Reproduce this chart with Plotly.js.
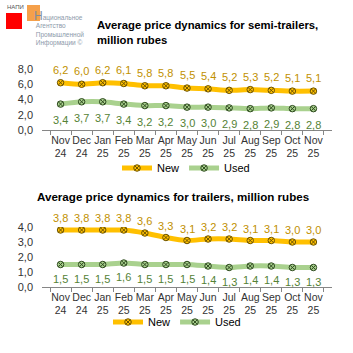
<!DOCTYPE html>
<html><head><meta charset="utf-8">
<script src="https://cdn.plot.ly/plotly-3.0.1.min.js"></script>
<style>html,body{margin:0;padding:0;background:#fff}#c{width:353px;height:353px}</style>
</head><body><div id="c"></div>
<script>
const months = ["Nov<br>24","Dec<br>24","Jan<br>25","Feb<br>25","Mar<br>25","Apr<br>25","May<br>25","Jun<br>25","Jul<br>25","Aug<br>25","Sep<br>25","Oct<br>25","Nov<br>25"];
const semiNew  = [6.2,6.0,6.2,6.1,5.8,5.8,5.5,5.4,5.2,5.3,5.2,5.1,5.1];
const semiUsed = [3.4,3.7,3.7,3.4,3.2,3.2,3.0,3.0,2.9,2.8,2.9,2.8,2.8];
const trNew    = [3.8,3.8,3.8,3.8,3.6,3.3,3.1,3.2,3.2,3.1,3.1,3.0,3.0];
const trUsed   = [1.5,1.5,1.5,1.6,1.5,1.5,1.5,1.4,1.3,1.4,1.4,1.3,1.3];
const title1 = "Average price dynamics for semi-trailers,<br>million rubes";
const title2 = "Average price dynamics for trailers, million rubes";

const NEWC="#FFC000", USEDC="#A9D18E", NEWT="#BF9000", USEDT="#548235";
const FN="Liberation Sans, Arial, sans-serif";

function tr(y, name, col, mcol, xa, ya, lg){
  return {x: months, y: y, name: name, type:"scatter", mode:"lines+markers",
    xaxis: xa, yaxis: ya, legend: lg,
    line:{color: col, width: 5, shape:"spline", smoothing:0.6},
    marker:{symbol:"circle-x", size:6.5, color: col, line:{color: mcol, width:1}}};
}
const data = [
  tr(semiNew,"New",NEWC,"#6B5200","x","y","legend"),
  tr(semiUsed,"Used",USEDC,"#2E4A1F","x","y","legend"),
  tr(trNew,"New",NEWC,"#6B5200","x2","y2","legend2"),
  tr(trUsed,"Used",USEDC,"#2E4A1F","x2","y2","legend2")
];
const ann = [];
function labels(vals, xa, ya, col, shift){
  vals.forEach((v,i)=>ann.push({x: months[i], y: v, xref: xa, yref: ya, text: v.toFixed(1).replace(".",","),
    showarrow:false, yshift: shift, font:{family:FN, size:11, color: col}}));
}
labels(semiNew,"x","y",NEWT,13);
labels(semiUsed,"x","y",USEDT,-16);
labels(trNew,"x2","y2",NEWT,12);
labels(trUsed,"x2","y2",USEDT,-14);
ann.push({xref:"paper",yref:"paper",x:(95-42)/290,y:1-33/353,xanchor:"left",yanchor:"middle",align:"left",showarrow:false,
  text:"<b>"+title1+"</b>",font:{family:FN,size:11.3,color:"#000"}});
ann.push({xref:"paper",yref:"paper",x:(173-42)/290,y:1-196/353,xanchor:"center",yanchor:"middle",showarrow:false,
  text:"<b>"+title2+"</b>",font:{family:FN,size:11.6,color:"#000"}});
// logo
ann.push({xref:"paper",yref:"paper",x:(6-42)/290,y:1-7/353,xanchor:"left",yanchor:"middle",showarrow:false,borderpad:0,
  text:"НАПИ",font:{family:FN,size:6,color:"#555"}});
ann.push({xref:"paper",yref:"paper",x:(33-42)/290,y:1-28/353,xanchor:"left",yanchor:"middle",align:"left",showarrow:false,borderpad:0,
  text:"<span style='font-size:12px;color:#7D8C9C'>Н</span>ациональное<br> Агентство<br> Промышленной<br> Информации ©",
  font:{family:FN,size:6.5,color:"#8C9AAA"}});

const xax = {type:"category", showgrid:false, zeroline:false, showline:true, linecolor:"#868686", linewidth:1,
  ticks:"outside", ticklen:4, tickcolor:"#868686", tickson:"boundaries", tickangle:0,
  tickfont:{family:FN,size:10.5,color:"#333"}, fixedrange:true};
const yax = {showgrid:false, zeroline:false, showline:false, ticks:"", tickformat:".1f",
  tickfont:{family:FN,size:11,color:"#333"}, ticklabelstandoff:8};
const layout = {
  width:353, height:353, margin:{l:42,r:21,t:0,b:0}, paper_bgcolor:"#fff", plot_bgcolor:"#fff",
  separators:", ", showlegend:true,
  xaxis:Object.assign({}, xax, {anchor:"y"}),
  xaxis2:Object.assign({}, xax, {anchor:"y2"}),
  yaxis:Object.assign({}, yax, {range:[0,8], dtick:2, domain:[1-130/353, 1-69/353]}),
  yaxis2:Object.assign({}, yax, {range:[0,4], dtick:1, domain:[1-287/353, 1-227/353]}),
  legend:{orientation:"h", x:(186-42)/290, xanchor:"center", y:1-168/353, yanchor:"middle", itemwidth:30,
    font:{family:FN,size:11,color:"#000"}, bgcolor:"rgba(0,0,0,0)"},
  legend2:{orientation:"h", x:(177-42)/290, xanchor:"center", y:1-322/353, yanchor:"middle", itemwidth:30,
    font:{family:FN,size:11,color:"#000"}, bgcolor:"rgba(0,0,0,0)"},
  annotations: ann,
  shapes:[
    {type:"rect", xref:"paper", yref:"paper", x0:(6-42)/290, x1:(22-42)/290, y0:1-29/353, y1:1-13/353, fillcolor:"#FF0000", line:{width:0}, layer:"below"},
    {type:"rect", xref:"paper", yref:"paper", x0:(27-42)/290, x1:(40-42)/290, y0:1-21/353, y1:1-5/353, fillcolor:"#F5A04A", line:{width:0}, layer:"below"}
  ]
};
Plotly.newPlot("c", data, layout, {displayModeBar:false, staticPlot:true});
</script></body></html>
